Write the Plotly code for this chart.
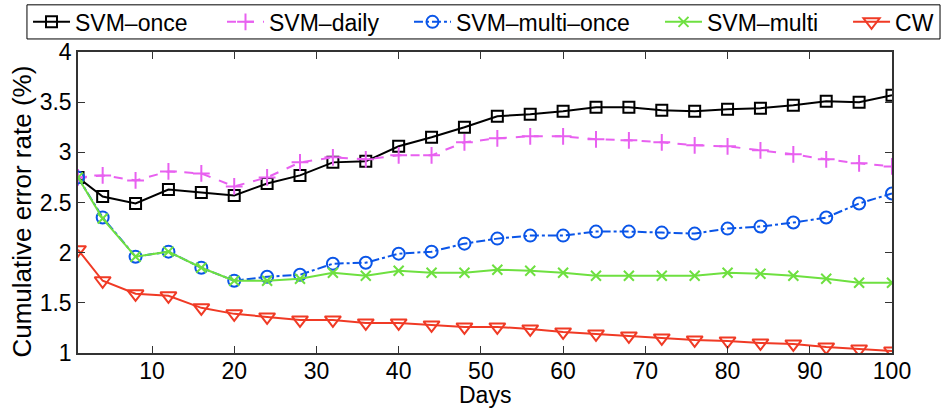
import plotly.graph_objects as go

days = [1, 4, 8, 12, 16, 20, 24, 28, 32, 36, 40, 44, 48, 52,
        56, 60, 64, 68, 72, 76, 80, 84, 88, 92, 96, 100]

svm_once = [2.75, 2.56, 2.49, 2.63, 2.60, 2.57, 2.69, 2.77, 2.90, 2.91, 3.06, 3.15, 3.25,
            3.36, 3.38, 3.41, 3.45, 3.45, 3.42, 3.41, 3.43, 3.44, 3.47, 3.51, 3.50, 3.57]
svm_daily = [2.75, 2.77, 2.72, 2.81, 2.79, 2.66, 2.75, 2.90, 2.95, 2.93, 2.97, 2.97, 3.10,
             3.14, 3.16, 3.16, 3.13, 3.12, 3.10, 3.07, 3.06, 3.02, 2.98, 2.93, 2.89, 2.86]
svm_multi_once = [2.75, 2.35, 1.96, 2.01, 1.85, 1.72, 1.76, 1.78, 1.89, 1.90, 1.99, 2.01, 2.09,
                  2.14, 2.17, 2.17, 2.21, 2.21, 2.20, 2.19, 2.24, 2.26, 2.30, 2.35, 2.49, 2.59]
svm_multi = [2.75, 2.34, 1.96, 2.01, 1.85, 1.72, 1.72, 1.74, 1.80, 1.77, 1.82, 1.80, 1.80,
             1.83, 1.82, 1.80, 1.77, 1.77, 1.77, 1.77, 1.80, 1.79, 1.77, 1.74, 1.70, 1.70]
cw = [2.03, 1.72, 1.59, 1.57, 1.45, 1.39, 1.36, 1.33, 1.33, 1.30, 1.30, 1.28, 1.26,
      1.26, 1.24, 1.21, 1.19, 1.17, 1.15, 1.13, 1.12, 1.10, 1.09, 1.06, 1.04, 1.02]

x_ticks = [10, 20, 30, 40, 50, 60, 70, 80, 90, 100]
y_ticks = [1, 1.5, 2, 2.5, 3, 3.5, 4]
y_tick_text = ["1", "1.5", "2", "2.5", "3", "3.5", "4"]

series = [
    ("SVM\u2013once", svm_once, "#000000", "solid", "square-open", 11),
    ("SVM\u2013daily", svm_daily, "#E860F0", "dash", "cross-thin-open", 12),
    ("SVM\u2013multi\u2013once", svm_multi_once, "#0A55E8", "dashdot", "circle-open", 12),
    ("SVM\u2013multi", svm_multi, "#6EE040", "solid", "x-thin-open", 10),
    ("CW", cw, "#F03A25", "solid", "triangle-down-open", 14),
]

# one legend per entry so the entries can be spaced along the shared frame
legend_ids = ["legend", "legend2", "legend3", "legend4", "legend5"]
legend_x = [-0.0614, 0.1769, 0.4066, 0.715, 0.946]

fig = go.Figure()
for (name, vals, color, dash, symbol, size), lid in zip(series, legend_ids):
    fig.add_trace(go.Scatter(
        x=days, y=vals, name=name, mode="lines+markers", legend=lid,
        line=dict(color=color, width=2, dash=dash),
        marker=dict(symbol=symbol, size=size, color=color, line=dict(color=color, width=2)),
    ))

font = "Liberation Sans, Arial, Helvetica, sans-serif"
axis_common = dict(
    showline=True, linecolor="#333333", linewidth=1.5, mirror="ticks",
    ticks="inside", ticklen=7, tickwidth=1, tickcolor="#333333",
    showgrid=False, zeroline=False,
    tickfont=dict(family=font, size=23, color="#000000"),
)

legend_layout = {}
for lid, lx in zip(legend_ids, legend_x):
    legend_layout[lid] = dict(
        orientation="h", x=lx, y=1.1, xanchor="left", yanchor="middle",
        borderwidth=0, bgcolor="rgba(0,0,0,0)",
        font=dict(family=font, size=23, color="#000000"),
        itemwidth=37,
    )

fig.update_layout(
    width=943, height=411,
    margin=dict(l=78, r=51, t=52, b=58, autoexpand=False),
    paper_bgcolor="white", plot_bgcolor="white",
    font=dict(family=font, size=23, color="#000000"),
    showlegend=True,
    xaxis=dict(range=[1, 100], tickvals=x_ticks, ticklabelstandoff=-3, **axis_common),
    yaxis=dict(range=[1, 4], tickvals=y_ticks, ticktext=y_tick_text, **axis_common),
    shapes=[dict(
        type="rect", xref="paper", yref="paper",
        x0=-0.0627, x1=1.059, y0=1.0433, y1=1.1567,
        line=dict(color="#000000", width=1), fillcolor="white", layer="below",
    )],
    annotations=[
        dict(
            text="Cumulative error rate (%)", textangle=-90,
            xref="paper", yref="paper", x=-0.0688, y=0.47,
            xanchor="center", yanchor="middle", showarrow=False,
            font=dict(family=font, size=26, color="#000000"),
        ),
        dict(
            text="Days", xref="paper", yref="paper", x=0.5, y=-0.19,
            xanchor="center", yanchor="bottom", showarrow=False,
            font=dict(family=font, size=23, color="#000000"),
        ),
    ],
    **legend_layout,
)

fig.write_html("out.html")
